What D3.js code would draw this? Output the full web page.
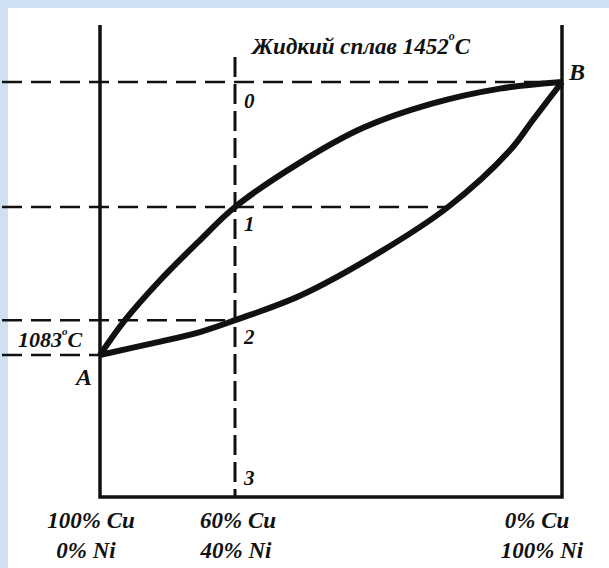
<!DOCTYPE html>
<html>
  <head>
    <meta charset="utf-8">
    <script src="https://d3js.org/d3.v7.min.js"></script>
    <style>
      body { margin: 0; background: #fff; }
    </style>
  </head>
<body>
  <script type="text/javascript">
    /*
      Data: composition in % Ni, temperature in deg C
    */
    var niPct = [0, 40, 100];
    var cuLabels = ["100% Cu", "60% Cu", "0% Cu"];
    var niLabels = ["0% Ni", "40% Ni", "100% Ni"];
    var tMeltCu = 1083, tMeltNi = 1452;
    var tMin = 891, tMax = 1529;

    var liquidusNi = [0, 7.4, 17.8, 29.6, 40, 51.9, 63.5, 75.8, 88.6, 100];
    var liquidusT = [1083, 1130, 1184, 1238, 1283, 1343, 1390, 1422, 1443, 1452];
    var solidusNi = [0, 14.8, 29.6, 40, 51.9, 66.6, 79.1, 90.5, 94.7, 100];
    var solidusT = [1083, 1098, 1114, 1130, 1163, 1222, 1283, 1360, 1401, 1452];

    // alloy 40% Ni: points 0..3
    var pointNames = ["0", "1", "2", "3"];
    var pointT = [1452, 1283, 1130, 891];
    var tieEndNi = 79.1; // solidus at the temperature of point 1

    "use strict";
    var width = 609, height = 568;
    var FONT = "'Liberation Serif', 'Times New Roman', serif";
    var svg = d3.select("body").append("svg")
        .attr("width", width)
        .attr("height", height);

    // scanned page background strip
    svg.append("rect").attr("width", width).attr("height", height).attr("fill", "#cfe0f2");
    svg.append("rect").attr("x", 8).attr("y", 8).attr("width", width - 8).attr("height", height - 8)
        .attr("fill", "#fff");

    var x = d3.scaleLinear().domain([0, 40, 100]).range([100, 235, 562]);
    var y = d3.scaleLinear().domain([tMin, tMax]).range([497, 25]);

    /*
      dashed guide lines
    */
    function hdash(x0, x1, t) {
      svg.append("line")
          .attr("x1", x0).attr("x2", x1)
          .attr("y1", y(t)).attr("y2", y(t))
          .attr("stroke", "#111").attr("stroke-width", 2.5)
          .attr("stroke-dasharray", "20,9");
    }
    hdash(2, x(100), tMeltNi);
    hdash(2, x(tieEndNi), pointT[1]);
    hdash(2, x(40), pointT[2]);
    hdash(2, x(0), tMeltCu);

    svg.append("line")
        .attr("x1", x(40)).attr("x2", x(40))
        .attr("y1", 57).attr("y2", y(tMin))
        .attr("stroke", "#111").attr("stroke-width", 3)
        .attr("stroke-dasharray", "20,7");

    /*
      frame (two verticals + base)
    */
    svg.append("path")
        .attr("d", "M" + x(0) + "," + y(tMax) + "V" + y(tMin) + "H" + x(100) + "V" + y(tMax))
        .attr("fill", "none").attr("stroke", "#111").attr("stroke-width", 3.5);

    /*
      liquidus and solidus
    */
    var line = d3.line()
        .x(function(d) { return x(d[0]); })
        .y(function(d) { return y(d[1]); })
        .curve(d3.curveCatmullRom.alpha(0.5));

    svg.append("path")
        .attr("d", line(d3.zip(liquidusNi, liquidusT)))
        .attr("fill", "none").attr("stroke", "#111").attr("stroke-width", 6);
    svg.append("path")
        .attr("d", line(d3.zip(solidusNi, solidusT)))
        .attr("fill", "none").attr("stroke", "#111").attr("stroke-width", 6);

    /*
      labels
    */
    var lab = svg.append("g")
        .attr("font-family", FONT)
        .attr("font-style", "italic")
        .attr("font-weight", "bold")
        .attr("fill", "#111");

    pointNames.forEach(function(n, i) {
      var dy = i === 3 ? -12 : (i === 0 ? 26 : 24);
      lab.append("text")
          .attr("x", x(40) + 9)
          .attr("y", y(pointT[i]) + dy)
          .attr("font-size", 21)
          .text(n);
    });

    lab.append("text").attr("x", x(100) + 7).attr("y", y(tMeltNi) - 2)
        .attr("font-size", 24).text("B");
    lab.append("text").attr("x", x(0) - 24).attr("y", y(tMeltCu) + 30)
        .attr("font-size", 24).text("A");

    var t1 = lab.append("text").attr("x", 18).attr("y", y(tMeltCu) - 8).attr("font-size", 22);
    t1.append("tspan").text("1083");
    t1.append("tspan").attr("dy", -12).attr("font-size", 11).text("o");
    t1.append("tspan").attr("dy", 12).text("C");

    var t2 = lab.append("text").attr("x", 252).attr("y", 54).attr("font-size", 23);
    t2.append("tspan").text("Жидкий сплав " + tMeltNi);
    t2.append("tspan").attr("dy", -14).attr("font-size", 12).text("o");
    t2.append("tspan").attr("dy", 14).text("C");

    var cuDx = [-9, 3, -25], niDx = [-14, 1, -20];
    niPct.forEach(function(p, i) {
      lab.append("text").attr("x", x(p) + cuDx[i]).attr("y", y(tMin) + 31)
          .attr("font-size", 23).attr("text-anchor", "middle").text(cuLabels[i]);
      lab.append("text").attr("x", x(p) + niDx[i]).attr("y", y(tMin) + 61)
          .attr("font-size", 23).attr("text-anchor", "middle").text(niLabels[i]);
    });
  </script>
</body>
</html>
